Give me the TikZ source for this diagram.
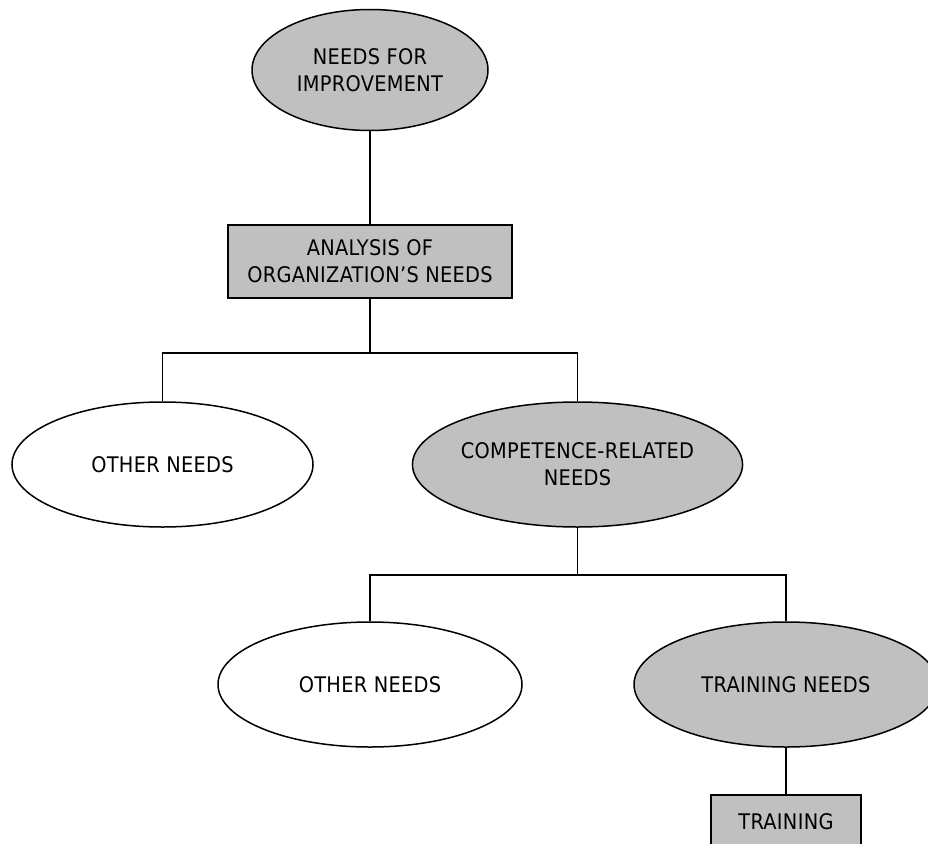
\documentclass[tikz,border=0pt]{standalone}
\usepackage{fontspec}
\setmainfont{DejaVu Sans Condensed}[LetterSpace=1.5]
\usetikzlibrary{shapes.geometric}
\definecolor{dotfill}{RGB}{192,192,192}
\tikzset{
  txt/.style={font=\fontsize{21.5}{27}\selectfont, align=center, text=black, inner sep=0pt},
  ell/.style={txt, ellipse, draw=black, line width=1.5pt},
  shaded/.style={fill=dotfill},
  plain/.style={fill=white},
  boxnode/.style={txt, rectangle, draw=black, line width=1.5pt, fill=dotfill},
  conn/.style={draw=black, line width=1.1pt}
}
\begin{document}
\begin{tikzpicture}[x=1pt,y=-1pt]
\useasboundingbox (0,0) rectangle (928,843);
\node[ell, shaded, minimum width=236pt, minimum height=121pt] (need) at (370,70) {NEEDS FOR\\IMPROVEMENT};
\node[boxnode, minimum width=284pt, minimum height=73pt] (anal) at (370,261.5) {ANALYSIS OF\\ORGANIZATION'S NEEDS};
\node[ell, plain, minimum width=301pt, minimum height=125pt] (oth1) at (162.5,464.5) {OTHER NEEDS};
\node[ell, shaded, minimum width=305pt, minimum height=125pt] (comp) at (577.5,464.5) {COMPETENCE-RELATED\\NEEDS};
\node[ell, plain, minimum width=304pt, minimum height=125pt] (oth2) at (370,684.5) {OTHER NEEDS};
\node[ell, shaded, minimum width=304pt, minimum height=125pt] (tn) at (786,684.5) {TRAINING NEEDS};
\node[boxnode, minimum width=150pt, minimum height=54pt] (tr) at (786,822) {TRAINING};
\coordinate (j1) at (370,353);
\coordinate (j2) at (577.5,575);
\draw[conn] (need.south) -- (anal.north);
\draw[conn] (anal.south) -- (j1);
\draw[conn] (oth1.north) |- (j1) -| (comp.north);
\draw[conn] (comp.south) -- (j2);
\draw[conn] (oth2.north) |- (j2) -| (tn.north);
\draw[conn] (tn.south) -- (tr.north);
\end{tikzpicture}
\end{document}
